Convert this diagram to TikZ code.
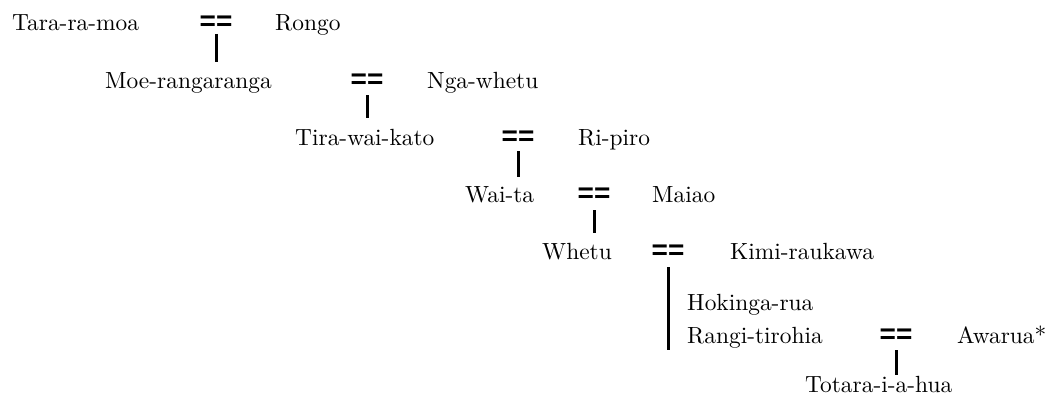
\documentclass[tikz,border=0pt]{standalone}
\usepackage{fontspec}
\usepackage{graphicx}
\newfontfamily\eqfont{Liberation Sans}
\usetikzlibrary{calc}
\newcommand{\pn}[1]{\scalebox{2.34}{#1}}
\begin{document}
\begin{tikzpicture}[x=1pt,y=-1pt,
  person/.style={anchor=base west,inner sep=0pt,font=\normalsize},
  marr/.style={anchor=base,inner sep=0pt,font=\eqfont\bfseries\fontsize{28}{30}\selectfont},
  vline/.style={line width=3pt}]
\useasboundingbox (0,0) rectangle (1051,396);
\node[person] (a1) at (12,31) {\pn{Tara-ra-moa}};
\node[marr] (e1) at (216,31) {==};
\node[person] (b1) at (275,31) {\pn{Rongo}};
\node[person] (a2) at (105,88) {\pn{Moe-rangaranga}};
\node[marr] (e2) at (367,88) {==};
\node[person] (b2) at (427,88) {\pn{Nga-whetu}};
\node[person] (a3) at (295,145) {\pn{Tira-wai-kato}};
\node[marr] (e3) at (518,145) {==};
\node[person] (b3) at (578,145) {\pn{Ri-piro}};
\node[person] (a4) at (465,202) {\pn{Wai-ta}};
\node[marr] (e4) at (594,202) {==};
\node[person] (b4) at (652,202) {\pn{Maiao}};
\node[person] (a5) at (542,259) {\pn{Whetu}};
\node[marr] (e5) at (668,259) {==};
\node[person] (b5) at (730,259) {\pn{Kimi-raukawa}};
\node[person] (c1) at (687,310) {\pn{Hokinga-rua}};
\node[person] (a6) at (687,343) {\pn{Rangi-tirohia}};
\node[marr] (e6) at (896,343) {==};
\node[person] (b6) at (957,343) {\pn{Awarua*}};
\node[person] (a7) at (805,392) {\pn{Totara-i-a-hua}};
\draw[vline] ($(e1.base)+(0,3)$) -- ($(e1.base |- a2.base)+(0,-26)$);
\draw[vline] ($(e2.base)+(0,7)$) -- ($(e2.base |- a3.base)+(0,-27)$);
\draw[vline] ($(e3.base)+(0,6)$) -- ($(e3.base |- a4.base)+(0,-25)$);
\draw[vline] ($(e4.base)+(0,8)$) -- ($(e4.base |- a5.base)+(0,-26)$);
\draw[vline] ($(e5.base)+(0,8)$) -- ($(e5.base |- a6.base)+(0,7)$);
\draw[vline] ($(e6.base)+(0,7)$) -- ($(e6.base |- a7.base)+(0,-17)$);
\end{tikzpicture}
\end{document}
